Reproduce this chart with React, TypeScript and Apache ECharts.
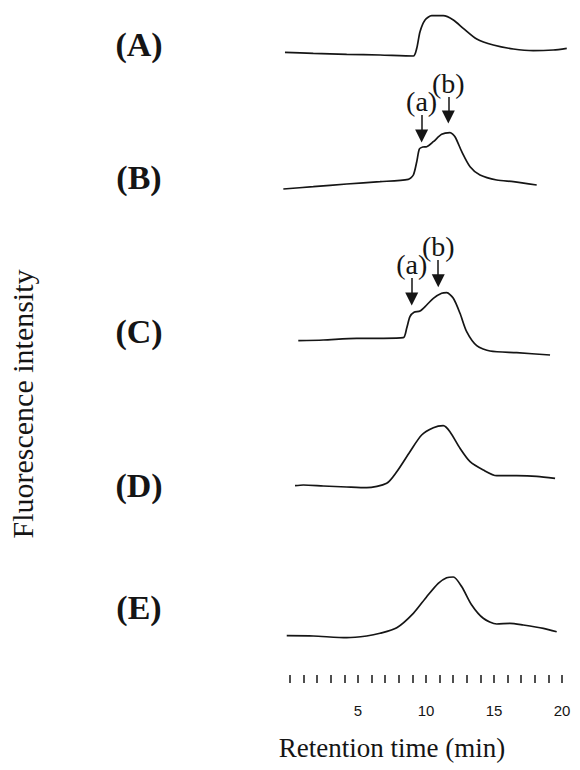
import React, { useEffect, useRef } from "react";
import * as echarts from "echarts";

// ---- data (retention time in min, fluorescence intensity in arbitrary units) ----
const panelNames = ["(A)", "(B)", "(C)", "(D)", "(E)"];
const tickLabels = [5, 10, 15, 20];
const xTitle = "Retention time (min)";
const yTitle = "Fluorescence intensity";

const timeA = [-0.37, 1.71, 4.17, 6.62, 9.07, 9.32, 9.56, 9.93, 10.42, 11.27, 12.01, 12.74, 13.73, 14.95, 16.42, 17.89, 19.36, 20.35];
const intensityA = [7.7, 6.7, 5.7, 5, 4, 11.7, 28.3, 40, 44.3, 44.3, 40, 31.7, 21, 15, 11, 9.3, 10, 11.7];

const timeB = [-0.49, 1.71, 4.17, 6.62, 8.7, 9.07, 9.32, 9.51, 9.76, 10.05, 10.54, 11.15, 11.76, 12.13, 12.63, 13.24, 13.97, 15.2, 16.42, 18.14];
const intensityB = [6, 8.3, 11, 13.3, 15.7, 20, 33.3, 46, 48, 48.3, 53.3, 60.7, 62.3, 58.3, 43.3, 28.3, 20, 15, 13.3, 10];

const timeC = [0.61, 2.45, 4.9, 6.86, 8.33, 8.58, 8.82, 9.12, 9.56, 10.05, 10.54, 11.15, 11.52, 12.01, 12.5, 12.99, 13.73, 14.71, 16.67, 19.12];
const intensityC = [19.3, 20, 21.7, 21.7, 22.3, 31.7, 43.3, 47.7, 49, 55, 61.7, 66.7, 67.3, 61.7, 46.7, 28.3, 14.3, 9, 7.3, 5];

const timeD = [0.37, 0.98, 2.45, 4.17, 5.64, 7.11, 7.85, 8.82, 9.68, 10.54, 11.27, 11.76, 12.5, 13.24, 14.21, 15.2, 16.67, 18.14, 19.49];
const intensityD = [4.3, 5, 4, 3, 2.3, 6.7, 18.3, 38.3, 55, 62.3, 64.3, 58.3, 41.7, 28.3, 20, 14.3, 14.3, 13.7, 11.7];

const timeE = [-0.24, 1.71, 4.17, 5.64, 6.62, 7.85, 9.07, 10.05, 10.9, 11.52, 12.01, 12.63, 13.36, 14.21, 15.2, 16.18, 17.15, 18.63, 19.61];
const intensityE = [4.3, 4, 2.3, 4, 6.7, 12.3, 26.7, 43.3, 56.7, 62.3, 63, 53.3, 35, 21.7, 16, 16.7, 15, 11.7, 8.3];

// peak annotations: [time, arrow start intensity, arrow end intensity]
const peakNames = ["(a)", "(b)"];
const peaksB = [
  [9.68, 80, 59],
  [11.64, 98, 78],
];
const peaksC = [
  [8.95, 82, 61],
  [10.9, 100, 79.3],
];

// ---- layout ----
const AX_LEFT = 290;
const AX_WIDTH = 272;
const PX_PER_MIN = AX_WIDTH / 20;
const panels = [
  { top: 10, height: 50, labelY: 44, time: timeA, values: intensityA, peaks: null as number[][] | null },
  { top: 75, height: 120, labelY: 177, time: timeB, values: intensityB, peaks: peaksB },
  { top: 225, height: 135, labelY: 331, time: timeC, values: intensityC, peaks: peaksC },
  { top: 420, height: 70, labelY: 485, time: timeD, values: intensityD, peaks: null },
  { top: 570, height: 70, labelY: 607, time: timeE, values: intensityE, peaks: null },
];

const INK = "#151515";
const SERIF = "'Liberation Serif', 'Times New Roman', serif";

function buildOption() {
  const grid: any[] = [];
  const xAxis: any[] = [];
  const yAxis: any[] = [];
  const series: any[] = [];

  panels.forEach((p, i) => {
    grid.push({
      left: AX_LEFT - PX_PER_MIN,
      width: AX_WIDTH + 2 * PX_PER_MIN,
      top: p.top,
      height: p.height,
      containLabel: false,
    });
    xAxis.push({ type: "value", gridIndex: i, min: -1, max: 21, show: false });
    yAxis.push({ type: "value", gridIndex: i, min: 0, max: p.height, show: false });
    const s: any = {
      type: "line",
      name: panelNames[i],
      xAxisIndex: i,
      yAxisIndex: i,
      data: p.time.map((t, k) => [t, p.values[k]]),
      showSymbol: false,
      smooth: 0.25,
      clip: false,
      lineStyle: { color: INK, width: 1.7 },
      silent: true,
    };
    if (p.peaks) {
      s.markLine = {
        silent: true,
        symbol: ["none", "triangle"],
        symbolSize: 13,
        lineStyle: { color: INK, width: 1.5, type: "solid" },
        label: {
          show: true,
          position: "start",
          formatter: "{b}",
          fontFamily: SERIF,
          fontSize: 28,
          color: INK,
          distance: 0,
        },
        data: p.peaks.map((pk, k) => [
          { name: peakNames[k], coord: [pk[0], pk[1]] },
          { coord: [pk[0], pk[2]] },
        ]),
      };
    }
    series.push(s);
  });

  // retention-time tick axis
  const ai = panels.length;
  grid.push({ left: AX_LEFT, width: AX_WIDTH, top: 600, height: 75, containLabel: false });
  xAxis.push({
    type: "value",
    gridIndex: ai,
    min: 0,
    max: 20,
    interval: 1,
    axisLine: { show: false },
    axisTick: { show: true, length: 8, lineStyle: { color: INK, width: 1.5 } },
    splitLine: { show: false },
    axisLabel: {
      margin: 28,
      fontFamily: "'Liberation Sans', Arial, sans-serif",
      fontSize: 15,
      color: INK,
      formatter: (v: number) => (tickLabels.indexOf(v) >= 0 ? String(v) : ""),
    },
  });
  yAxis.push({ type: "value", gridIndex: ai, show: false, min: 0, max: 1 });

  const graphic: any[] = panels.map((p, i) => ({
    type: "text",
    x: 139,
    y: p.labelY,
    style: {
      text: panelNames[i],
      fontFamily: SERIF,
      fontSize: 34,
      fontWeight: "bold",
      fill: INK,
      align: "center",
      verticalAlign: "middle",
    },
  }));
  graphic.push({
    type: "text",
    x: 22,
    y: 404,
    rotation: Math.PI / 2,
    style: {
      text: yTitle,
      fontFamily: SERIF,
      fontSize: 30,
      fill: INK,
      align: "center",
      verticalAlign: "middle",
    },
  });
  graphic.push({
    type: "text",
    x: 392,
    y: 748,
    style: {
      text: xTitle,
      fontFamily: SERIF,
      fontSize: 27,
      fill: INK,
      align: "center",
      verticalAlign: "middle",
    },
  });

  return {
    animation: false,
    backgroundColor: "#ffffff",
    grid,
    xAxis,
    yAxis,
    series,
    graphic,
  };
}

export default function App() {
  const ref = useRef<HTMLDivElement>(null);
  useEffect(() => {
    if (!ref.current) return;
    const chart = echarts.init(ref.current, null, { renderer: "svg" });
    chart.setOption(buildOption() as any);
    return () => chart.dispose();
  }, []);
  return (
    <div
      ref={ref}
      style={{ position: "fixed", left: 0, top: 0, width: 580, height: 770, background: "#fff" }}
    />
  );
}
